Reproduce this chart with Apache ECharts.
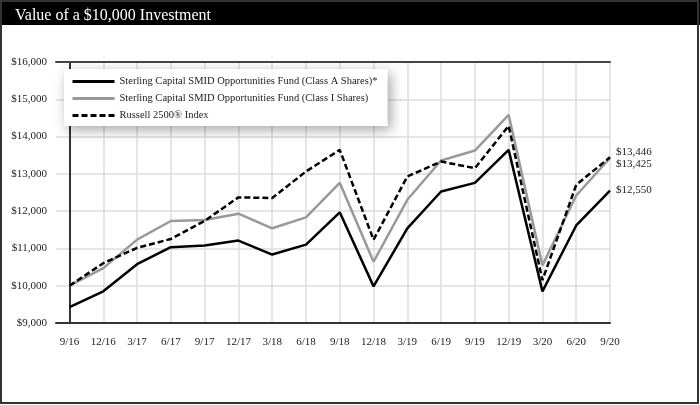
<!DOCTYPE html>
<html>
<head>
<meta charset="utf-8">
<script src="https://cdn.jsdelivr.net/npm/echarts@6/dist/echarts.min.js"></script>
<style>
html,body{margin:0;padding:0;background:#fff;}
#c{width:700px;height:405px;}
</style>
</head>
<body>
<div id="c"></div>
<script>
const categories = ['9/16','12/16','3/17','6/17','9/17','12/17','3/18','6/18','9/18','12/18','3/19','6/19','9/19','12/19','3/20','6/20','9/20'];
const classA = [9425, 9850, 10578, 11032, 11077, 11210, 10836, 11103, 11968, 9982, 11536, 12527, 12759, 13643, 9848, 11616, 12550];
const classI = [10000, 10471, 11237, 11736, 11763, 11932, 11540, 11834, 12761, 10643, 12304, 13357, 13625, 14580, 10545, 12420, 13425];
const russell = [10000, 10604, 11014, 11255, 11740, 12369, 12351, 13064, 13643, 11232, 12929, 13330, 13152, 14286, 10150, 12705, 13446];
const yTicks = [9000, 10000, 11000, 12000, 13000, 14000, 15000, 16000];
const names = ['Sterling Capital SMID Opportunities Fund (Class A Shares)*', 'Sterling Capital SMID Opportunities Fund (Class I Shares)', 'Russell 2500\u00AE Index'];

const FONT = '"Liberation Serif", "DejaVu Serif", serif';
const idx = categories.map((c, i) => i);
const pairs = arr => arr.map((v, i) => [i, v]);
const money = v => '$' + v.toLocaleString('en-US');

const chart = echarts.init(document.getElementById('c'), null, {renderer: 'canvas'});
chart.setOption({
  backgroundColor: '#fff',
  animation: false,
  textStyle: {fontFamily: FONT},
  title: {
    text: 'Value of a $10,000 Investment',
    left: 10, top: 3,
    textStyle: {color: '#fff', fontFamily: FONT, fontSize: 16, fontWeight: 'normal'}
  },
  graphic: [
    {type: 'rect', z: -1, shape: {x: 0, y: 0, width: 700, height: 25}, style: {fill: '#000'}},
    {type: 'rect', z: 100, shape: {x: 1, y: 1, width: 697, height: 402}, style: {fill: 'none', stroke: '#333', lineWidth: 2}}
  ],
  legend: {
    orient: 'vertical',
    left: 64, top: 69,
    padding: [7, 10, 5, 7],
    itemGap: 6,
    itemWidth: 42, itemHeight: 12,
    backgroundColor: '#fff',
    shadowBlur: 12, shadowColor: 'rgba(0,0,0,0.35)', shadowOffsetX: 3, shadowOffsetY: 4,
    itemStyle: {opacity: 0},
    lineStyle: {width: 3},
    textStyle: {fontFamily: FONT, fontSize: 10.5, color: '#222'},
    data: names
  },
  grid: {left: 56, right: 90, top: 62, bottom: 82},
  xAxis: [{
    type: 'value', min: -0.4, max: 16,
    axisLine: {show: true, lineStyle: {color: '#333', width: 2}},
    axisTick: {show: false, customValues: idx},
    axisLabel: {customValues: idx, formatter: v => categories[Math.round(v)], margin: 14,
      fontFamily: FONT, fontSize: 11, color: '#222'},
    splitLine: {show: true, lineStyle: {color: '#dcdcdc', width: 1.5}}
  }, {
    type: 'value', min: -0.4, max: 16, position: 'top',
    axisLine: {show: true, lineStyle: {color: '#444', width: 2}},
    axisTick: {show: false}, axisLabel: {show: false}, splitLine: {show: false}
  }],
  yAxis: {
    type: 'value', min: yTicks[0], max: yTicks[yTicks.length - 1], interval: 1000,
    axisLine: {show: true, lineStyle: {color: '#333', width: 2}},
    axisTick: {show: false},
    axisLabel: {formatter: money, margin: 9, fontFamily: FONT, fontSize: 11, color: '#222'},
    splitLine: {show: true, lineStyle: {color: '#dcdcdc', width: 1.5}}
  },
  series: [
    {
      name: names[1], type: 'line', data: pairs(classI), symbol: 'none', z: 2,
      lineStyle: {color: '#999', width: 2.5}, itemStyle: {color: '#999'},
      endLabel: {show: true, formatter: p => money(p.value[1]), offset: [-2, 6], fontFamily: FONT, fontSize: 11, color: '#222'}
    },
    {
      name: names[2], type: 'line', data: pairs(russell), symbol: 'none', z: 3,
      lineStyle: {color: '#000', width: 2.5, type: [6, 3]}, itemStyle: {color: '#000'},
      endLabel: {show: true, formatter: p => money(p.value[1]), offset: [-2, -5], fontFamily: FONT, fontSize: 11, color: '#222'}
    },
    {
      name: names[0], type: 'line', data: pairs(classA), symbol: 'none', z: 4,
      lineStyle: {color: '#000', width: 2.5}, itemStyle: {color: '#000'},
      endLabel: {show: true, formatter: p => money(p.value[1]), offset: [-2, -1], fontFamily: FONT, fontSize: 11, color: '#222'}
    }
  ]
});
</script>
</body>
</html>
